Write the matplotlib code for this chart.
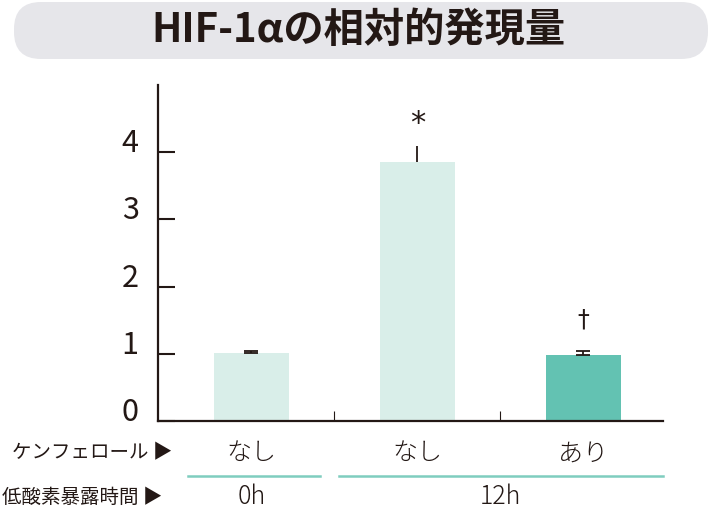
import matplotlib
matplotlib.use("Agg")
import matplotlib.pyplot as plt
from matplotlib.patches import FancyBboxPatch
from matplotlib.lines import Line2D

plt.rcParams['font.family'] = ['Noto Sans CJK JP', 'DejaVu Sans']

# =========================
# DATA
# =========================
title = "HIF-1αの相対的発現量"
values = [1.01, 3.85, 0.98]
errors = [0.035, 0.24, 0.06]
caps = [True, False, True]
marks = ["", "*", "†"]
kaempferol = ["なし", "なし", "あり"]
hypoxia_groups = ["0h", "12h"]
hypoxia_span = [(0, 0), (1, 2)]
row_labels = ["ケンフェロール ▶", "低酸素暴露時間 ▶"]
yticks = [0, 1, 2, 3, 4]

INK = "#231815"
LIGHT = "#d9eee9"
DARK = "#63c2b2"
LINE = "#7fcdbf"
bar_colors = [LIGHT, LIGHT, DARK]

# =========================
# FIGURE
# =========================
fig = plt.figure(figsize=(7.2, 5.16), dpi=100)

# pixel-space overlay for the banner
ov = fig.add_axes([0, 0, 1, 1], zorder=0)
ov.set_xlim(0, 720)
ov.set_ylim(516, 0)
ov.axis("off")
ov.add_patch(FancyBboxPatch((14, 2), 694, 57,
                            boxstyle="round,pad=0,rounding_size=27",
                            facecolor="#e6e6ea", edgecolor="none"))
ov.text(358, 31, title, ha="center", va="center",
        fontsize=29, fontweight="bold", color=INK)

ax = fig.add_axes([158 / 720, 1 - 421 / 516, 505 / 720, 336 / 516], zorder=1)
ax.patch.set_alpha(0)

x = list(range(len(values)))
ax.bar(x, values, width=0.45, color=bar_colors, zorder=2)
for xi, v, e, c in zip(x, values, errors, caps):
    ax.errorbar(xi, v, yerr=[[0], [e]], fmt="none", ecolor=INK,
                elinewidth=1.3, capsize=5 if c else 0, capthick=1.3, zorder=3)

ax.text(1, values[1] + errors[1] + 0.34, marks[1], ha="center", va="center",
        fontsize=22, color=INK, family=['DejaVu Sans'])
ax.text(2, values[2] + errors[2] + 0.47, marks[2], ha="center", va="center",
        fontsize=17, color=INK, family=['DejaVu Sans'])

ax.set_xlim(-0.563, 2.479)
ax.set_ylim(0, 5)
ax.set_yticks(yticks)
ax.set_yticklabels([str(t) for t in yticks], fontsize=22, color=INK,
                   fontweight="normal", ha="center", va="baseline")
ax.tick_params(axis="y", direction="in", length=12, width=1.5, color=INK, pad=20)
ax.set_xticks([])
ax.set_xticks([0.5, 1.5], minor=True)
ax.tick_params(axis="x", which="minor", direction="in", length=7.5, width=0.8,
               color=INK, labelbottom=False)

for s in ["top", "right"]:
    ax.spines[s].set_visible(False)
for s in ["left", "bottom"]:
    ax.spines[s].set_linewidth(1.6)
    ax.spines[s].set_color(INK)

# category rows under the axis
trans = ax.get_xaxis_transform()
for xi, lab in zip(x, kaempferol):
    ax.text(xi, -0.095, lab, transform=trans, ha="center", va="center",
            fontsize=18, color=INK, fontweight="light")

for (a, b), lab in zip(hypoxia_span, hypoxia_groups):
    ax.text((a + b) / 2, -0.225, lab, transform=trans, ha="center", va="center",
            fontsize=18, color=INK, fontweight="light")

ax.add_line(Line2D([-0.38, 0.41], [-0.163, -0.163], transform=trans,
                   color=LINE, lw=1.8, clip_on=False))
ax.add_line(Line2D([0.53, 2.479], [-0.163, -0.163], transform=trans,
                   color=LINE, lw=1.8, clip_on=False))

ov.text(12, 453, row_labels[0], ha="left", va="center", fontsize=14, color=INK)
ov.text(2, 497, row_labels[1], ha="left", va="center", fontsize=14, color=INK)

plt.savefig("out.png", dpi=100)
plt.close()
